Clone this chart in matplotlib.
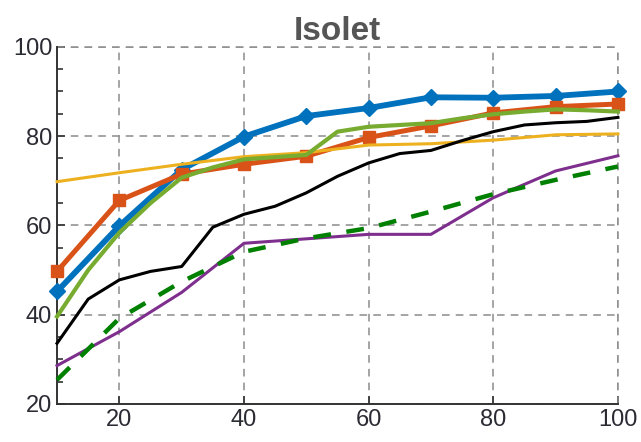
import matplotlib
matplotlib.use('Agg')
import matplotlib.pyplot as plt
from matplotlib.ticker import MultipleLocator

plt.rcParams['font.family'] = ['Liberation Sans', 'DejaVu Sans']

# sample sizes
x10 = [10, 20, 30, 40, 50, 60, 70, 80, 90, 100]
x5 = [10, 15, 20, 25, 30, 35, 40, 45, 50, 55, 60, 65, 70, 75, 80, 85, 90, 95, 100]

# accuracy curves
blue = [45.2, 59.9, 72.5, 79.9, 84.5, 86.3, 88.7, 88.6, 89.0, 90.0]
orange = [49.7, 65.6, 71.5, 73.7, 75.5, 79.7, 82.3, 85.2, 86.6, 87.2]
yellow = [69.8, 71.8, 73.7, 75.4, 76.3, 78.0, 78.3, 79.1, 80.3, 80.5]
purple = [28.6, 36.2, 45.0, 56.0, 57.0, 58.0, 58.0, 66.2, 72.2, 75.6]
green = [39.6, 50.0, 58.4, 65.0, 70.7, 73.0, 74.8, 75.3, 75.8, 81.0,
         82.1, 82.5, 82.9, 84.0, 84.9, 85.5, 86.0, 85.8, 85.5]
black = [33.6, 43.5, 47.8, 49.7, 50.8, 59.6, 62.5, 64.3, 67.3, 71.0,
         74.0, 76.1, 76.8, 79.0, 81.0, 82.5, 83.0, 83.3, 84.2]
dashed = [25.4, 39.2, 47.4, 54.1, 57.1, 59.4, 63.1, 67.0, 70.2, 73.2]

fig = plt.figure(figsize=(6.41, 4.42), dpi=100)
ax = fig.add_axes([0.089, 0.086, 0.875, 0.808])

ax.plot(x10, blue, color='#0072BD', lw=4.2, marker='D', ms=8, clip_on=False, zorder=3)
ax.plot(x10, orange, color='#D95319', lw=3.6, marker='s', ms=8, clip_on=False, zorder=4)
ax.plot(x10, yellow, color='#EDB120', lw=2.2, clip_on=False, zorder=5)
ax.plot(x10, purple, color='#7E2F8E', lw=2.2, clip_on=False, zorder=5)
ax.plot(x5, green, color='#77AC30', lw=3.0, clip_on=False, zorder=6)
ax.plot(x5, black, color='black', lw=2.2, clip_on=False, zorder=6)
ax.plot(x10, dashed, color='#008000', lw=3.2, ls=(0, (4, 3.5)), clip_on=False, zorder=6)

ax.set_xlim(10, 100)
ax.set_ylim(20, 100)
ax.set_xticks([20, 40, 60, 80, 100])
ax.set_yticks([20, 40, 60, 80, 100])
ax.yaxis.set_minor_locator(MultipleLocator(5))
ax.tick_params(axis='both', which='both', direction='in', labelsize=17,
               labelcolor='#2b2b33', color='#333333', width=1.2)
ax.tick_params(which='major', length=6)
ax.tick_params(which='minor', length=4)

for s in ['top', 'right']:
    ax.spines[s].set_visible(False)
for s in ['left', 'bottom']:
    ax.spines[s].set_color('#333333')
    ax.spines[s].set_linewidth(1.4)

ax.grid(True, which='major', ls=(0, (5, 4)), color='#8c8c8c', lw=1.1)
# box edges drawn as grid-style dashes
ax.axhline(100, ls=(0, (5, 4)), color='#8c8c8c', lw=1.1, clip_on=False, zorder=1)
ax.axvline(100, ls=(0, (5, 4)), color='#8c8c8c', lw=1.1, clip_on=False, zorder=1)
ax.set_axisbelow(True)

ax.set_title('Isolet', fontsize=24, fontweight='bold', color='#555555', pad=4)

fig.savefig('out.png', dpi=100)
